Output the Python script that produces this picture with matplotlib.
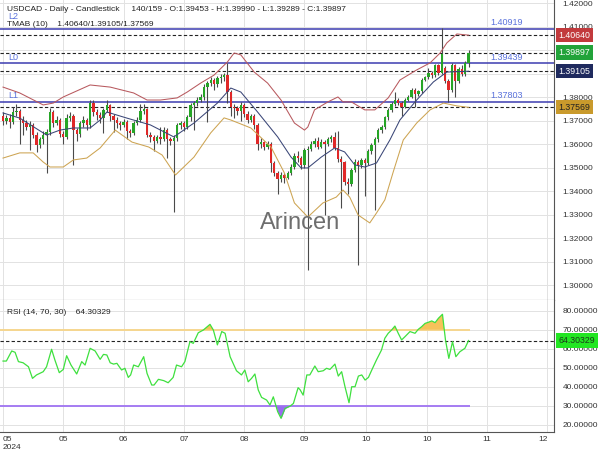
import matplotlib
matplotlib.use("Agg")
import matplotlib.pyplot as plt
import matplotlib.transforms as mtransforms
import numpy as np

plt.rcParams['font.family'] = ['Liberation Sans', 'DejaVu Sans']

# daily candles, USDCAD
opens = [1.3720, 1.3700, 1.3712, 1.3695, 1.3735, 1.3742, 1.3705, 1.3690, 1.3675, 1.3682,
         1.3640, 1.3598, 1.3620, 1.3640, 1.3652, 1.3738, 1.3690, 1.3705, 1.3645, 1.3630,
         1.3712, 1.3722, 1.3660, 1.3642, 1.3690, 1.3705, 1.3680, 1.3775, 1.3738, 1.3725,
         1.3712, 1.3745, 1.3765, 1.3720, 1.3705, 1.3690, 1.3682, 1.3695, 1.3655, 1.3648,
         1.3690, 1.3705, 1.3740, 1.3748, 1.3640, 1.3630, 1.3615, 1.3630, 1.3620, 1.3662,
         1.3620, 1.3612, 1.3625, 1.3680, 1.3690, 1.3675, 1.3715, 1.3765, 1.3775, 1.3790,
         1.3802, 1.3845, 1.3860, 1.3872, 1.3855, 1.3880, 1.3886, 1.3893, 1.3820, 1.3760,
         1.3755, 1.3740, 1.3768, 1.3730, 1.3705, 1.3720, 1.3682, 1.3600, 1.3608, 1.3590,
         1.3600, 1.3520, 1.3478, 1.3450, 1.3470, 1.3458, 1.3478, 1.3505, 1.3550, 1.3540,
         1.3510, 1.3575, 1.3580, 1.3600, 1.3615, 1.3590, 1.3610, 1.3600, 1.3620, 1.3632,
         1.3585, 1.3538, 1.3525, 1.3440, 1.3432, 1.3490, 1.3525, 1.3510, 1.3532, 1.3520,
         1.3570, 1.3595, 1.3620, 1.3660, 1.3672, 1.3715, 1.3745, 1.3770, 1.3790, 1.3775,
         1.3760, 1.3790, 1.3802, 1.3830, 1.3815, 1.3825, 1.3875, 1.3885, 1.3905, 1.3895,
         1.3935, 1.3905, 1.3925, 1.3870, 1.3830, 1.3935, 1.3870, 1.3920, 1.3900, 1.39453]
highs = [1.3735, 1.3725, 1.3728, 1.3760, 1.3772, 1.3750, 1.3718, 1.3702, 1.3698, 1.3690,
         1.3650, 1.3632, 1.3655, 1.3665, 1.3752, 1.3745, 1.3720, 1.3712, 1.3655, 1.3730,
         1.3735, 1.3728, 1.3668, 1.3700, 1.3718, 1.3712, 1.3788, 1.3790, 1.3748, 1.3735,
         1.3755, 1.3790, 1.3772, 1.3730, 1.3715, 1.3700, 1.3708, 1.3702, 1.3665, 1.3700,
         1.3715, 1.3770, 1.3772, 1.3755, 1.3652, 1.3640, 1.3640, 1.3672, 1.3675, 1.3668,
         1.3630, 1.3640, 1.3690, 1.3698, 1.3700, 1.3725, 1.3775, 1.3785, 1.3800, 1.3815,
         1.3855, 1.3870, 1.3885, 1.3880, 1.3890, 1.3898, 1.3905, 1.3945, 1.3830, 1.3770,
         1.3762, 1.3778, 1.3775, 1.3740, 1.3730, 1.3728, 1.3690, 1.3625, 1.3615, 1.3612,
         1.3608, 1.3528, 1.3485, 1.3480, 1.3478, 1.3488, 1.3515, 1.3562, 1.3570, 1.3548,
         1.3585, 1.3592, 1.3612, 1.3625, 1.3632, 1.3620, 1.3618, 1.3630, 1.3640, 1.3652,
         1.3655, 1.3548, 1.3530, 1.3455, 1.3500, 1.3535, 1.3532, 1.3540, 1.3540, 1.3580,
         1.3605, 1.3630, 1.3670, 1.3680, 1.3722, 1.3752, 1.3778, 1.3822, 1.3798, 1.3782,
         1.3798, 1.3810, 1.3838, 1.3838, 1.3832, 1.3882, 1.3892, 1.3925, 1.3912, 1.3942,
         1.3940, 1.4095, 1.3932, 1.3878, 1.3945, 1.3942, 1.3928, 1.3935, 1.3952, 1.39990]
lows = [1.3680, 1.3688, 1.3670, 1.3685, 1.3720, 1.3600, 1.3640, 1.3660, 1.3575, 1.3625,
        1.3566, 1.3585, 1.3600, 1.3478, 1.3640, 1.3675, 1.3680, 1.3630, 1.3600, 1.3622,
        1.3700, 1.3512, 1.3615, 1.3630, 1.3675, 1.3662, 1.3670, 1.3720, 1.3705, 1.3690,
        1.3647, 1.3735, 1.3700, 1.3650, 1.3670, 1.3660, 1.3672, 1.3620, 1.3630, 1.3640,
        1.3680, 1.3695, 1.3728, 1.3630, 1.3610, 1.3570, 1.3605, 1.3600, 1.3612, 1.3540,
        1.3595, 1.3312, 1.3615, 1.3665, 1.3655, 1.3665, 1.3700, 1.3660, 1.3762, 1.3780,
        1.3790, 1.3695, 1.3848, 1.3830, 1.3845, 1.3860, 1.3870, 1.3775, 1.3720, 1.3712,
        1.3725, 1.3700, 1.3715, 1.3690, 1.3695, 1.3665, 1.3575, 1.3585, 1.3575, 1.3580,
        1.3480, 1.3465, 1.3390, 1.3440, 1.3435, 1.3450, 1.3468, 1.3495, 1.3525, 1.3495,
        1.3500, 1.3065, 1.3570, 1.3590, 1.3580, 1.3582, 1.3300, 1.3592, 1.3610, 1.3575,
        1.3525, 1.3330, 1.3425, 1.3390, 1.3420, 1.3480, 1.3085, 1.3500, 1.3380, 1.3510,
        1.3560, 1.3320, 1.3610, 1.3648, 1.3665, 1.3705, 1.3738, 1.3762, 1.3765, 1.3720,
        1.3752, 1.3782, 1.3795, 1.3760, 1.3805, 1.3818, 1.3868, 1.3878, 1.3880, 1.3888,
        1.3895, 1.3898, 1.3860, 1.3780, 1.3822, 1.3800, 1.3862, 1.3890, 1.3892, 1.39289]
closes = [1.3700, 1.3712, 1.3695, 1.3735, 1.3742, 1.3705, 1.3690, 1.3675, 1.3682, 1.3640,
          1.3598, 1.3620, 1.3640, 1.3652, 1.3738, 1.3690, 1.3705, 1.3645, 1.3630, 1.3712,
          1.3722, 1.3660, 1.3642, 1.3690, 1.3705, 1.3680, 1.3775, 1.3738, 1.3725, 1.3712,
          1.3745, 1.3765, 1.3720, 1.3705, 1.3690, 1.3682, 1.3695, 1.3655, 1.3648, 1.3690,
          1.3705, 1.3740, 1.3748, 1.3640, 1.3630, 1.3615, 1.3630, 1.3620, 1.3662, 1.3620,
          1.3612, 1.3625, 1.3680, 1.3690, 1.3675, 1.3715, 1.3765, 1.3775, 1.3790, 1.3802,
          1.3845, 1.3860, 1.3872, 1.3855, 1.3880, 1.3886, 1.3893, 1.3820, 1.3760, 1.3755,
          1.3740, 1.3768, 1.3730, 1.3705, 1.3720, 1.3682, 1.3600, 1.3608, 1.3590, 1.3600,
          1.3520, 1.3478, 1.3450, 1.3470, 1.3458, 1.3478, 1.3505, 1.3550, 1.3540, 1.3510,
          1.3575, 1.3580, 1.3600, 1.3615, 1.3590, 1.3610, 1.3600, 1.3620, 1.3632, 1.3585,
          1.3538, 1.3525, 1.3440, 1.3432, 1.3490, 1.3525, 1.3510, 1.3532, 1.3520, 1.3570,
          1.3595, 1.3620, 1.3660, 1.3672, 1.3715, 1.3745, 1.3770, 1.3790, 1.3775, 1.3760,
          1.3790, 1.3802, 1.3830, 1.3815, 1.3825, 1.3875, 1.3885, 1.3905, 1.3895, 1.3935,
          1.3905, 1.3985, 1.3870, 1.3830, 1.3935, 1.3870, 1.3920, 1.3900, 1.3945, 1.39897]

# TMA band (10), sampled along the chart
upper_idx = [0, 5, 12, 15, 18, 26, 32, 39, 43, 47, 52, 55, 59, 63, 67, 69, 71, 75, 79, 83,
             87, 90, 91, 93, 97, 100, 101.5, 104, 108, 111, 115, 118.5, 123.5, 127.5, 130.5,
             132.5, 135.5, 139]
upper_val = [1.3843, 1.3818, 1.3767, 1.3775, 1.3801, 1.3852, 1.3843, 1.3818, 1.3788, 1.3788,
             1.3797, 1.3822, 1.3860, 1.3894, 1.3950, 1.3988, 1.3980, 1.3907, 1.3860, 1.3788,
             1.3690, 1.3660, 1.3673, 1.3746, 1.3780, 1.3801, 1.3780, 1.3780, 1.3746, 1.3746,
             1.3797, 1.3873, 1.3916, 1.3946, 1.3988, 1.4031, 1.4069, 1.40640]
mid_idx = [0, 5, 13, 17, 21, 26, 29, 31, 37, 44, 51, 57, 64, 68, 71, 76, 82, 86, 89, 91,
           95, 99, 102, 105, 108, 111.5, 115.5, 118.5, 123.5, 128.5, 132.5, 139]
mid_val = [1.3733, 1.3711, 1.3639, 1.3660, 1.3669, 1.3669, 1.3703, 1.3737, 1.3711, 1.3682,
           1.3631, 1.3690, 1.3775, 1.3839, 1.3822, 1.3737, 1.3631, 1.3545, 1.3499, 1.3499,
           1.3545, 1.3584, 1.3567, 1.3512, 1.3503, 1.3520, 1.3618, 1.3703, 1.3788, 1.3865,
           1.3907, 1.39105]
lower_idx = [0, 5, 9, 12, 14, 18, 21, 25, 29, 33.5, 38.5, 43.5, 47.5, 51.5, 57, 62, 66, 68,
             74, 80, 84, 87, 91, 95.5, 99.5, 101.5, 103.5, 106, 109.5, 111.5, 114, 116.5,
             119.5, 123.5, 127.5, 131.5, 135.5, 139]
lower_val = [1.3541, 1.3563, 1.3563, 1.3524, 1.3503, 1.3503, 1.3533, 1.3541, 1.3584, 1.3660,
             1.3609, 1.3588, 1.3554, 1.3469, 1.3545, 1.3648, 1.3712, 1.3703, 1.3669, 1.3588,
             1.3478, 1.3350, 1.3290, 1.3350, 1.3375, 1.3405, 1.3375, 1.3299, 1.3265, 1.3307,
             1.3363, 1.3482, 1.3618, 1.3690, 1.3746, 1.3775, 1.3763, 1.37569]

# RSI (14)
rsi_idx = [0, 1, 2.6, 3.6, 4.6, 6, 7.6, 8.8, 10, 12, 13, 14.5, 15.5, 16.8, 18, 19, 20.3, 22,
           23.5, 24.5, 26, 27.5, 29, 30, 31, 32, 33, 34, 35.4, 36.4, 37.4, 38.1, 39, 40.4,
           42, 43, 44.4, 45.1, 46.4, 48, 49.3, 50.8, 51.8, 53.3, 54.3, 55.8, 56.8, 58.3, 59.8,
           61.8, 62.8, 64, 65.3, 66.3, 67.8, 69.7, 71.2, 72.2, 73.2, 74.2, 75.2, 76.2, 77.2,
           78.7, 79.7, 80.7, 82, 83, 84.2, 85.7, 86.7, 88.1, 88.7, 89.6, 90.7, 91.6, 93.1,
           94.1, 95.6, 96.6, 97.6, 99.1, 100.1, 101.1, 102.1, 103.3, 104.1, 105.1, 106.1,
           107.1, 108.1, 109.1, 110.1, 111.5, 113, 114, 115, 116, 117, 118, 119, 120, 121.5,
           123, 124, 125, 126, 127, 128, 129, 130, 131.2, 132.1, 133.1, 134.2, 135.2, 136.4,
           137.9, 139]
rsi_val = [53.5, 53.5, 58.8, 58.1, 53.2, 52.6, 50.5, 44.4, 46.2, 47.9, 50.5, 59.7, 54.0, 47.4,
           49.1, 56.3, 51.4, 46.7, 53.2, 51.4, 60.2, 58.8, 54.4, 57.0, 56.7, 52.6, 51.9, 52.3,
           48.8, 49.7, 44.9, 46.2, 51.4, 50.5, 55.8, 47.0, 40.9, 40.9, 43.9, 43.2, 42.1, 44.9,
           51.4, 50.5, 53.2, 63.7, 62.8, 68.4, 69.8, 72.8, 69.8, 62.0, 69.0, 68.1, 55.8, 48.4,
           46.2, 48.8, 42.6, 44.4, 46.7, 38.3, 34.4, 33.0, 30.4, 34.7, 26.9, 23.4, 28.6, 29.8,
           31.2, 39.5, 38.4, 35.6, 46.2, 46.2, 50.9, 47.9, 48.4, 49.7, 49.1, 51.9, 45.6, 47.9,
           40.0, 31.6, 40.0, 40.0, 45.6, 46.2, 43.5, 44.9, 48.8, 54.1, 59.3, 65.5, 68.1, 69.8,
           71.9, 68.1, 64.6, 66.3, 69.0, 68.1, 70.2, 71.6, 73.3, 73.9, 74.6, 73.7, 76.0, 78.1,
           64.6, 54.9, 63.7, 55.8, 58.4, 60.2, 64.30329]

level_names = ["L2", "L0", "L1"]
level_values = [1.40919, 1.39439, 1.37803]
band_last = [1.40640, 1.39105, 1.37569]
last_close = 1.39897
last_rsi = 64.30329

price_ticks = [1.30, 1.31, 1.32, 1.33, 1.34, 1.35, 1.36, 1.37, 1.38, 1.39, 1.40, 1.41, 1.42]
hidden_ticks = [1.39, 1.40]  # covered by the value boxes
xtick_pos = [0, 18, 36, 54, 72, 90, 108.5, 126.5, 144.5, 162.5]
xtick_labels = ["05\n2024", "05", "06", "07", "08", "09", "10", "10", "11", "12"]

GREEN = "#26a526"
RED = "#e02828"
GRID = "#e2e2e2"
AXC = "#555555"

fig = plt.figure(figsize=(6, 4.5), dpi=100)
ax = fig.add_axes([0, 150 / 450, 554 / 600, 300 / 450])
ax2 = fig.add_axes([0, 18 / 450, 554 / 600, 132 / 450], sharex=ax)

x = np.arange(len(closes))
o = np.array(opens)
c = np.array(closes)
h = np.array(highs)
l = np.array(lows)
up = c >= o
cols = np.where(up, GREEN, RED)

# candles
ax.vlines(x, l, h, color="#4a4a4a", linewidth=0.8, zorder=3)
ax.bar(x, np.maximum(np.abs(c - o), 0.0002), bottom=np.minimum(o, c), width=0.7,
       color=cols, linewidth=0, zorder=4)

# bands
ax.plot(upper_idx, upper_val, color="#b8595e", linewidth=0.75, zorder=5)
ax.plot(mid_idx, mid_val, color="#3a4677", linewidth=0.75, zorder=5)
ax.plot(lower_idx, lower_val, color="#cda452", linewidth=0.75, zorder=5)

# levels
for name, val in zip(level_names, level_values):
    ax.axhline(val, color="#3c3cb0", linewidth=1.1, zorder=2)
    # the top label sits a bit higher so it clears the TMAB line of text
    off = 0.0034 if name == "L2" else 0.0007
    ax.text(1.5, val + off, name, color="#5a72dc", fontsize=6.5, va="bottom", ha="left")
    ax.text(145.5, val + 0.0007, f"{val:.5f}", color="#5a72dc", fontsize=6.5,
            va="bottom", ha="left")
for val in band_last + [last_close]:
    ax.axhline(val, color="#222222", linewidth=0.8, linestyle=(0, (3, 2)), zorder=2)

ax.set_xlim(-0.9, 164.5)
ax.set_ylim(1.29370, 1.42136)
ax.set_yticks(price_ticks)
ax.set_yticklabels(["" if t in hidden_ticks else f"{t:.5f}" for t in price_ticks])
ax.yaxis.tick_right()
ax.tick_params(axis="y", length=0, pad=6, labelsize=6, labelcolor="#333333")
ax.tick_params(axis="x", length=0, labelbottom=False)
ax.set_xticks(xtick_pos)
ax.grid(True, color=GRID, linewidth=0.7, zorder=0)
ax.set_axisbelow(True)
for s in ["left", "top"]:
    ax.spines[s].set_visible(False)
ax.spines["right"].set_color(AXC)
ax.spines["bottom"].set_color(AXC)

# value boxes on the right axis
trans = mtransforms.blended_transform_factory(ax.transAxes, ax.transData)
boxes = [(band_last[0], "#c23a3d", "white"), (last_close, "#22a33a", "white"),
         (band_last[1], "#1f2a5e", "white"), (band_last[2], "#c99a2c", "#222222")]
for val, bg, fg in boxes:
    ax.text(1.008, val, f"{val:.5f}", transform=trans, fontsize=6.3, color=fg, va="center",
            ha="left", clip_on=False, zorder=10,
            bbox=dict(boxstyle="square,pad=0.3", facecolor=bg, edgecolor="none"))

ax.text(0.012, 0.968, "USDCAD - Daily - Candlestick     140/159 - O:1.39453 - H:1.39990 - "
        "L:1.39289 - C:1.39897", transform=ax.transAxes, fontsize=6, color="#222222",
        va="center")
ax.text(0.012, 0.918, "TMAB (10)    1.40640/1.39105/1.37569", transform=ax.transAxes,
        fontsize=6, color="#222222", va="center")

fig.text(0.5, 1 - 223 / 450, "Arincen", fontsize=17, color="#6e6e6e", ha="center",
         va="center")

# RSI panel
ri = np.array(rsi_idx)
rv = np.array(rsi_val)
ax2.hlines(70, -0.9, 139.5, color="#f6d68e", linewidth=1.4, zorder=2)
ax2.hlines(30, -0.9, 139.5, color="#a57cf2", linewidth=1.4, zorder=2)
ax2.fill_between(ri, rv, 70, where=rv > 70, interpolate=True, color="#f6c25a",
                 linewidth=0, zorder=3)
ax2.fill_between(ri, rv, 30, where=rv < 30, interpolate=True, color="#9a6cf0",
                 linewidth=0, zorder=3)
ax2.plot(ri, rv, color="#3ee03e", linewidth=0.9, zorder=4)
ax2.axhline(last_rsi, color="#222222", linewidth=0.8, linestyle=(0, (3, 2)), zorder=2)

ax2.set_ylim(16.2, 85.6)
ax2.set_yticks(np.arange(20, 81, 10))
ax2.yaxis.tick_right()
ax2.yaxis.set_major_formatter(plt.FormatStrFormatter("%.5f"))
ax2.tick_params(axis="y", length=0, pad=6, labelsize=6, labelcolor="#333333")
ax2.set_xticks(xtick_pos)
ax2.set_xticklabels(xtick_labels)
ax2.tick_params(axis="x", length=0, pad=3, labelsize=6, labelcolor="#333333")
labs = ax2.get_xticklabels()
labs[0].set_ha("left")
labs[0].set_multialignment("left")
labs[-1].set_ha("right")
ax2.grid(True, color=GRID, linewidth=0.7, zorder=0)
ax2.set_axisbelow(True)
for s in ["left", "top"]:
    ax2.spines[s].set_visible(False)
ax2.spines["right"].set_color(AXC)
ax2.spines["bottom"].set_color(AXC)

ax2.text(0.012, 0.909, "RSI (14, 70, 30)    64.30329", transform=ax2.transAxes,
         fontsize=6, color="#222222", va="center")
trans2 = mtransforms.blended_transform_factory(ax2.transAxes, ax2.transData)
ax2.text(1.008, last_rsi, f"{last_rsi:.5f}", transform=trans2, fontsize=6.3, color="#1a3a1a",
         va="center", ha="left", clip_on=False, zorder=10,
         bbox=dict(boxstyle="square,pad=0.3", facecolor="#22e622", edgecolor="none"))

fig.savefig("out.png", dpi=100)
